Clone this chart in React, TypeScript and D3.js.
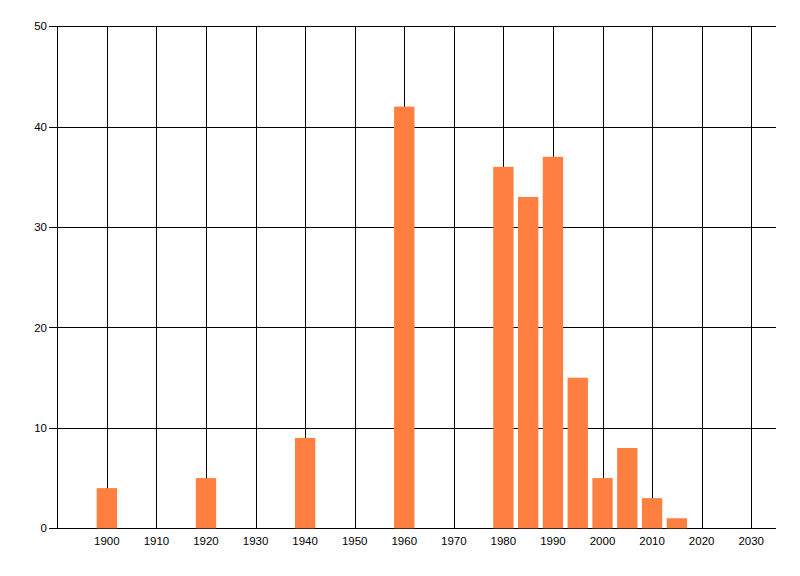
import { useEffect, useRef } from 'react';
import { select, scaleLinear, range } from 'd3';

const years = [1900, 1920, 1940, 1960, 1980, 1985, 1990, 1995, 2000, 2005, 2010, 2015];
const counts = [4, 5, 9, 42, 36, 33, 37, 15, 5, 8, 3, 1];
const xTicks = [1900, 1910, 1920, 1930, 1940, 1950, 1960, 1970, 1980, 1990, 2000, 2010, 2020, 2030];
const yTicks = [0, 10, 20, 30, 40, 50];

const W = 800;
const H = 576;

export default function App() {
    const svgRef = useRef<SVGSVGElement>(null);

    useEffect(() => {
        if (svgRef.current == null) return;
        const svg = select(svgRef.current);
        svg.selectAll('*').remove();

        const left = 57.3, right = 776, top = 26.3, bottom = 528.3;
        const x = scaleLinear().domain([1890, 2035]).range([left, right]);
        const y = scaleLinear().domain([0, 50]).range([bottom, top]);
        const barHalf = 2.05;

        const g = svg.append('g');

        // vertical grid
        g.selectAll('line.vgrid')
            .data(xTicks)
            .enter()
            .append('line')
            .attr('class', 'vgrid')
            .attr('x1', d => Math.round(x(d)) + 0.5)
            .attr('x2', d => Math.round(x(d)) + 0.5)
            .attr('y1', Math.round(y(50)) + 0.5)
            .attr('y2', Math.round(y(0)) + 0.5)
            .attr('stroke', '#000')
            .attr('stroke-width', 1);

        // horizontal grid + y ticks
        g.selectAll('line.hgrid')
            .data(yTicks)
            .enter()
            .append('line')
            .attr('class', 'hgrid')
            .attr('x1', Math.round(left) - 8)
            .attr('x2', right)
            .attr('y1', d => Math.round(y(d)) + 0.5)
            .attr('y2', d => Math.round(y(d)) + 0.5)
            .attr('stroke', '#000')
            .attr('stroke-width', 1);

        // y axis line
        g.append('line')
            .attr('x1', Math.round(left) + 0.5)
            .attr('x2', Math.round(left) + 0.5)
            .attr('y1', Math.round(y(50)))
            .attr('y2', Math.round(y(0)) + 1)
            .attr('stroke', '#000');

        // bars
        g.selectAll('rect')
            .data(range(years.length))
            .enter()
            .append('rect')
            .attr('x', i => x(years[i] - barHalf))
            .attr('width', i => x(years[i] + barHalf) - x(years[i] - barHalf))
            .attr('y', i => y(counts[i]))
            .attr('height', i => y(0) - y(counts[i]))
            .attr('fill', '#ff7f40');

        // y labels
        g.selectAll('text.ylab')
            .data(yTicks)
            .enter()
            .append('text')
            .attr('class', 'ylab')
            .attr('x', 47)
            .attr('y', d => y(d))
            .attr('dy', '0.35em')
            .attr('text-anchor', 'end')
            .attr('font-family', 'Liberation Sans, Arial, sans-serif')
            .attr('font-size', 11.5)
            .text(d => `${d}`);

        // x labels
        g.selectAll('text.xlab')
            .data(xTicks)
            .enter()
            .append('text')
            .attr('class', 'xlab')
            .attr('x', d => x(d))
            .attr('y', bottom + 13)
            .attr('dy', '0.35em')
            .attr('text-anchor', 'middle')
            .attr('font-family', 'Liberation Sans, Arial, sans-serif')
            .attr('font-size', 11.5)
            .text(d => `${d}`);
    }, []);

    return (
        <div style={{ position: 'fixed', left: 0, top: 0, width: W, height: H, background: '#fff' }}>
            <svg ref={svgRef} width={W} height={H} style={{ display: 'block' }}></svg>
        </div>
    );
}
